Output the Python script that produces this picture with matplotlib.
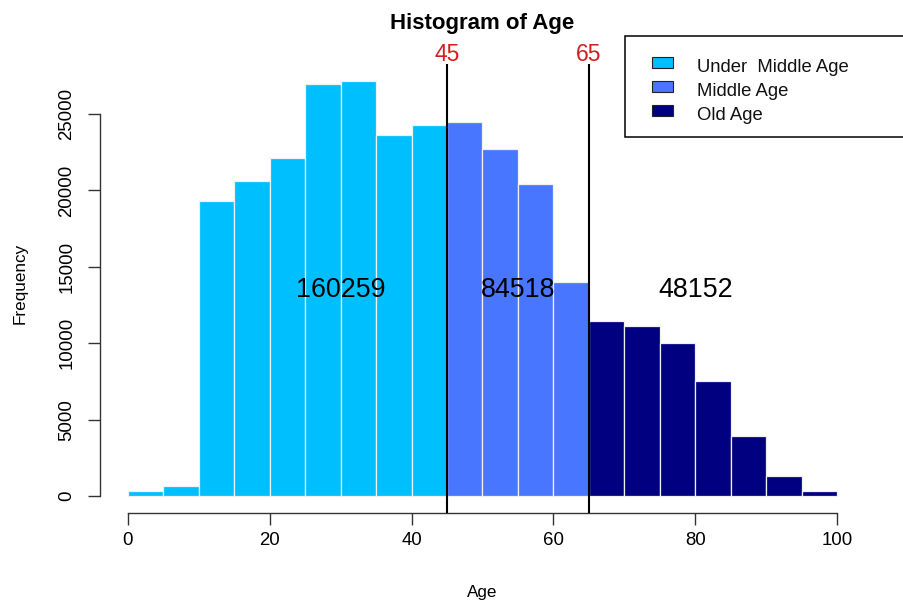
import matplotlib
matplotlib.use("Agg")
import matplotlib.pyplot as plt
from matplotlib import font_manager
from matplotlib.patches import Rectangle
from matplotlib.transforms import blended_transform_factory

# ---------------- data ----------------
bin_left = [0, 5, 10, 15, 20, 25, 30, 35, 40, 45, 50, 55, 60, 65, 70, 75, 80, 85, 90, 95]
bin_width = 5
counts = [300, 650, 19300, 20600, 22150, 26950, 27150, 23650, 24250,
          24500, 22700, 20450, 14000,
          11450, 11100, 10000, 7550, 3900, 1300, 300]
cutoffs = [45, 65]
group_names = ["Under  Middle Age", "Middle Age", "Old Age"]
group_colors = ["#00BFFF", "#4876FF", "#000080"]
group_totals = ["160259", "84518", "48152"]
group_label_x = [30, 55, 80]
group_label_y = 13500
x_ticks = [0, 20, 40, 60, 80, 100]
y_ticks = [0, 5000, 10000, 15000, 20000, 25000]

# ---------------- fonts ----------------
names = {f.name for f in font_manager.fontManager.ttflist}
REG = "Liberation Sans" if "Liberation Sans" in names else "DejaVu Sans"
NARROW = "Liberation Sans Narrow" if "Liberation Sans Narrow" in names else REG
plt.rcParams["font.family"] = [REG, "DejaVu Sans"]

W, H = 904, 608
fig = plt.figure(figsize=(W / 100, H / 100), dpi=100)
L, R, T, B = 99.6, 865.4, 64.4, 512.6
ax = fig.add_axes([L / W, 1 - B / H, (R - L) / W, (B - T) / H])

def group_of(x):
    g = 0
    for c in cutoffs:
        if x >= c:
            g += 1
    return g

colors = [group_colors[group_of(x)] for x in bin_left]
ax.bar(bin_left, counts, width=bin_width, align="edge", color=colors,
       edgecolor="#F0F0F0", linewidth=0.9, zorder=2)

ax.set_xlim(-4, 104)
ax.set_ylim(-1086, 28246)

for s in ["top", "right"]:
    ax.spines[s].set_visible(False)
ax.spines["bottom"].set_bounds(0, 100)
ax.spines["left"].set_bounds(0, 25000)
for s in ["bottom", "left"]:
    ax.spines[s].set_linewidth(1.0)
    ax.spines[s].set_color("#333333")

ax.set_xticks(x_ticks)
ax.set_yticks(y_ticks)
ax.set_xticklabels([str(v) for v in x_ticks], fontfamily=NARROW, fontsize=13.4)
ax.set_yticklabels([str(v) for v in y_ticks], fontfamily=NARROW, fontsize=13.4,
                   rotation=90, va="center")
ax.tick_params(axis="both", direction="out", length=8.6, width=1.0, color="#333333")
ax.tick_params(axis="x", pad=5.5)
ax.tick_params(axis="y", pad=9)

# cutoff lines
for c in cutoffs:
    ax.axvline(c, color="black", linewidth=1.5, zorder=3)
tr = blended_transform_factory(ax.transData, ax.transAxes)
for c in cutoffs:
    ax.text(c, 1.0066, str(c), transform=tr, ha="center", va="baseline",
            color="#D02020", fontsize=16.5, clip_on=False)

# group totals
for xx, t in zip(group_label_x, group_totals):
    ax.text(xx, group_label_y, t, ha="center", va="center", fontsize=19.4,
            color="black", zorder=4)

# title and labels
ax.set_title("Histogram of Age", fontweight="bold", fontsize=16, pad=25.5)
ax.set_xlabel("Age", fontfamily=NARROW, fontsize=12.3)
ax.xaxis.set_label_coords(0.5, (H - 593 - (H - B)) / (B - T))
ax.xaxis.label.set_va("center")
ax.set_ylabel("Frequency", fontsize=12.3)
ax.yaxis.set_label_coords((20 - L) / (R - L), 0.512)
ax.yaxis.label.set_va("center")

# legend (drawn in figure pixel coordinates)
def fx(px):
    return px / W

def fy(py):
    return 1 - py / H

box = Rectangle((fx(625), fy(137)), fx(960) - fx(625), fy(36) - fy(137),
                transform=fig.transFigure, facecolor="white", edgecolor="black",
                linewidth=1.1, clip_on=False)
fig.add_artist(box)
row_base = [71.7, 95.7, 119.5]
for name, col, yb in zip(group_names, group_colors, row_base):
    yc = yb - 9.5
    fig.add_artist(Rectangle((fx(652), fy(yc + 5.5)), fx(673) - fx(652), 11 / H,
                             transform=fig.transFigure, facecolor=col,
                             edgecolor="#222222", linewidth=0.8))
    fig.text(fx(697), fy(yb), name, ha="left", va="baseline", fontsize=13.3,
             color="#111111")

fig.savefig("out.png", dpi=100)
print(REG, NARROW)
